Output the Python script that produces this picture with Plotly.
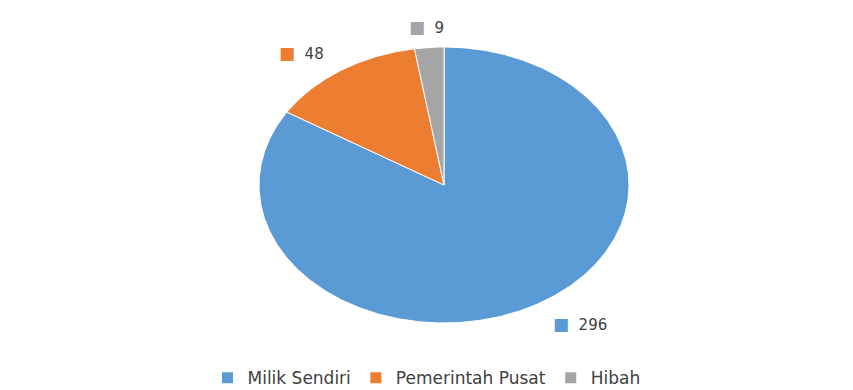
import numpy as np
import plotly.graph_objects as go

# ---- data ----
categories = ["Milik Sendiri", "Pemerintah Pusat", "Hibah"]
values = [296, 48, 9]
colors = ["#5B9BD5", "#ED7D31", "#A5A5A5"]

# ---- layout constants (pixels) ----
W, H = 853, 390
CX, CY = 444, 185      # ellipse centre in px
RX, RY = 185, 138      # ellipse radii in px
FONT = "DejaVu Sans, Verdana, sans-serif"

fig = go.Figure()

total = float(sum(values))
start = 0.0
label_pos = []
for cat, val, col in zip(categories, values, colors):
    span = 360.0 * val / total
    n = max(int(span * 2), 4)
    th = np.radians(np.linspace(start, start + span, n))
    xs = np.concatenate([[0.0], np.sin(th), [0.0]])
    ys = np.concatenate([[0.0], np.cos(th), [0.0]])
    fig.add_trace(go.Scatter(
        x=xs, y=ys, mode="lines", fill="toself", fillcolor=col,
        line=dict(color="white", width=1), hoverinfo="skip",
        showlegend=False, legendgroup=cat, name=cat))
    mid = np.radians(start + span / 2)
    label_pos.append((np.sin(mid), np.cos(mid), val, col))
    start += span

# legend entries
for cat, col in zip(categories, colors):
    fig.add_trace(go.Scatter(
        x=[None], y=[None], mode="markers", name=cat, legendgroup=cat,
        marker=dict(symbol="square", size=11, color=col)))

# data labels with legend keys
for dx, dy, val, col in label_pos:
    f = 1.15
    if abs(dx) < 0.2:
        anchor = "center"
    elif dx > 0:
        anchor = "left"
    else:
        anchor = "right"
    fig.add_annotation(
        x=dx * f, y=dy * f, xref="x", yref="y", showarrow=False,
        xanchor=anchor, yanchor="middle", xshift=(4 if anchor == "left" else 0),
        text=f'<span style="color:{col};font-size:17px">■</span>&nbsp;&nbsp;{val}',
        font=dict(size=15, color="#404040", family=FONT))

fig.update_layout(
    width=W, height=H,
    margin=dict(l=0, r=0, t=0, b=0, autoexpand=False),
    paper_bgcolor="white", plot_bgcolor="white",
    xaxis=dict(range=[-CX / RX, (W - CX) / RX], visible=False, fixedrange=True),
    yaxis=dict(range=[-(H - CY) / RY, CY / RY], visible=False, fixedrange=True),
    showlegend=True,
    legend=dict(orientation="h", x=0.5, xanchor="center", y=0.03, yanchor="middle",
                font=dict(size=17, color="#404040", family=FONT),
                itemwidth=30, bgcolor="rgba(0,0,0,0)"),
    hovermode=False,
)

fig.write_html("out.html")
